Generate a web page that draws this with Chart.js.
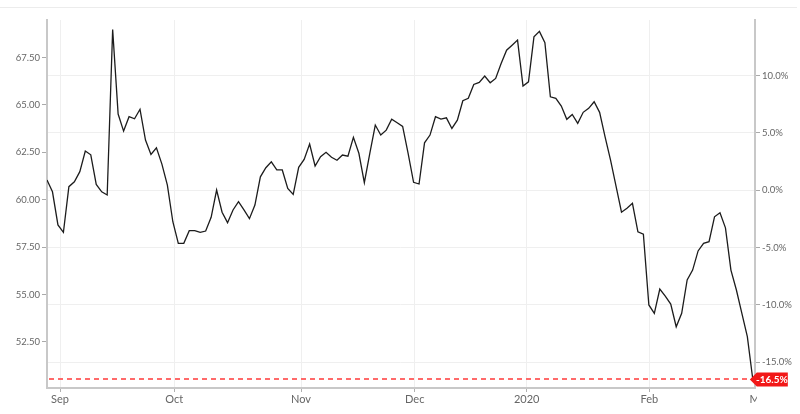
<!DOCTYPE html>
<html>
<head>
<meta charset="utf-8">
<script src="https://cdn.jsdelivr.net/npm/chart.js@4"></script>
<style>
  html, body { margin: 0; padding: 0; background: #fff; }
  #wrap { position: relative; width: 800px; height: 414px; }
  #topline { position: absolute; left: 0; right: 3px; top: 7px; border-top: 1px solid #ececec; }
  canvas { position: absolute; left: 0; top: 0; }
</style>
</head>
<body>
<div id="wrap">
  <div id="topline"></div>
  <canvas id="chart" width="800" height="414"></canvas>
</div>
<script>
// daily closes, late Aug 2019 -> end of Feb 2020
const closes = [
  61.04, 60.42, 58.67, 58.28, 60.69, 60.95, 61.48, 62.57, 62.37, 60.81,
  60.42, 60.25, 68.98, 64.52, 63.62, 64.38, 64.27, 64.77, 63.15, 62.39,
  62.74, 61.88, 60.77, 58.84, 57.70, 57.70, 58.37, 58.37, 58.28, 58.35,
  59.07, 60.51, 59.34, 58.79, 59.46, 59.90, 59.46, 59.00, 59.72, 61.21,
  61.69, 62.00, 61.57, 61.57, 60.60, 60.28, 61.71, 62.13, 62.94, 61.78,
  62.27, 62.50, 62.24, 62.08, 62.36, 62.30, 63.29, 62.45, 60.90, 62.45,
  63.94, 63.41, 63.67, 64.25, 64.06, 63.87, 62.45, 60.92, 60.83, 63.00,
  63.41, 64.38, 64.25, 64.32, 63.76, 64.20, 65.22, 65.35, 66.08, 66.19,
  66.52, 66.17, 66.40, 67.19, 67.89, 68.15, 68.42, 66.00, 66.22, 68.59,
  68.88, 68.28, 65.43, 65.35, 64.94, 64.24, 64.50, 64.03, 64.61, 64.82,
  65.17, 64.61, 63.32, 62.09, 60.72, 59.34, 59.55, 59.81, 58.31, 58.18,
  54.45, 54.01, 55.29, 54.92, 54.50, 53.30, 54.01, 55.77, 56.29, 57.30,
  57.70, 57.79, 59.10, 59.31, 58.52, 56.29, 55.24, 54.01, 52.78, 50.52
];
const dayIndex = closes.map((_, i) => i);
const basePrice = 60.5;

const monthLabels = ["Sep", "Oct", "Nov", "Dec", "2020", "Feb", "Mar"];
const monthPos = [2.38, 23.27, 46.43, 67.21, 87.68, 110.09, 130.2];

const priceTicks = [52.5, 55, 57.5, 60, 62.5, 65, 67.5];
const pctTicks = [-15, -10, -5, 0, 5, 10];
const priceMin = 50.07;
const priceMax = 69.48;
const xMax = 129.4;

const toPct = v => (v / basePrice - 1) * 100;
const FONT = "Lato, 'Open Sans', sans-serif";
const axisGray = "#c8c8c8";
const gridGray = "#efefef";

const overlay = {
  id: "overlay",
  beforeDatasetsDraw(chart) {
    const { ctx, chartArea, scales } = chart;
    const last = closes[closes.length - 1];
    const ly = Math.round(scales.y.getPixelForValue(last));
    ctx.save();
    ctx.strokeStyle = "#ff6a6a";
    ctx.lineWidth = 2;
    ctx.setLineDash([5, 4]);
    ctx.beginPath();
    ctx.moveTo(chartArea.left + 2, ly);
    ctx.lineTo(chartArea.right, ly);
    ctx.stroke();
    ctx.restore();
  },
  afterDraw(chart) {
    const { ctx, chartArea, scales } = chart;
    // month labels, clipped at the right edge like the original
    ctx.save();
    ctx.beginPath();
    ctx.rect(0, chartArea.bottom, chartArea.right + 2, 30);
    ctx.clip();
    ctx.fillStyle = "#666";
    ctx.font = "11px " + FONT;
    ctx.textAlign = "center";
    ctx.textBaseline = "middle";
    monthLabels.forEach((t, i) => {
      ctx.fillText(t, scales.x.getPixelForValue(monthPos[i]), chartArea.bottom + 11);
    });
    ctx.restore();

    // last value tag
    const last = closes[closes.length - 1];
    const ly = scales.y.getPixelForValue(last);
    const tip = scales.x.getPixelForValue(closes.length - 1) - 3;
    const right = tip + 38, h = 7;
    ctx.save();
    ctx.fillStyle = "#f21818";
    ctx.beginPath();
    ctx.moveTo(tip, ly);
    ctx.lineTo(tip + 7, ly - h);
    ctx.lineTo(right, ly - h);
    ctx.lineTo(right, ly + h);
    ctx.lineTo(tip + 7, ly + h);
    ctx.closePath();
    ctx.fill();
    ctx.fillStyle = "#fff";
    ctx.font = "bold 10px " + FONT;
    ctx.textAlign = "center";
    ctx.textBaseline = "middle";
    ctx.fillText(toPct(last).toFixed(1) + "%", (tip + 6 + right) / 2, ly + 0.5);
    ctx.restore();
  }
};

new Chart(document.getElementById("chart"), {
  type: "line",
  data: {
    datasets: [
      {
        data: closes.map((v, i) => ({ x: dayIndex[i], y: v })),
        borderColor: "#1c1c1c",
        borderWidth: 1.3,
        pointRadius: 0,
        tension: 0,
        yAxisID: "y",
      },
    ],
  },
  options: {
    responsive: false,
    animation: false,
    layout: { padding: { top: 20 } },
    plugins: {
      legend: { display: false },
      tooltip: { enabled: false },
    },
    scales: {
      x: {
        type: "linear",
        min: 0,
        max: xMax,
        afterBuildTicks: s => {
          s.ticks = monthPos.filter(p => p <= xMax).map(v => ({ value: v }));
        },
        afterFit: s => { s.height = 26; },
        ticks: { display: false },
        grid: { color: gridGray, tickColor: "#b0b0b0", tickLength: 4 },
        border: { color: axisGray, width: 2 },
      },
      y: {
        position: "left",
        min: priceMin,
        max: priceMax,
        afterBuildTicks: s => { s.ticks = priceTicks.map(v => ({ value: v })); },
        afterFit: s => { s.width = 47; },
        ticks: {
          callback: v => v.toFixed(2),
          color: "#666",
          font: { family: FONT, size: 9.5 },
          padding: 2,
        },
        grid: { drawOnChartArea: false, tickLength: 5, tickColor: "#aaa" },
        border: { color: axisGray, width: 2 },
      },
      y2: {
        position: "right",
        min: toPct(priceMin),
        max: toPct(priceMax),
        afterBuildTicks: s => { s.ticks = pctTicks.map(v => ({ value: v })); },
        afterFit: s => { s.width = 45; },
        ticks: {
          callback: v => v.toFixed(1) + "%",
          color: "#666",
          font: { family: FONT, size: 9.5 },
          padding: 2,
        },
        grid: { color: gridGray, tickLength: 5, tickColor: "#aaa" },
        border: { color: axisGray, width: 2 },
      },
    },
  },
  plugins: [overlay],
});
</script>
</body>
</html>
